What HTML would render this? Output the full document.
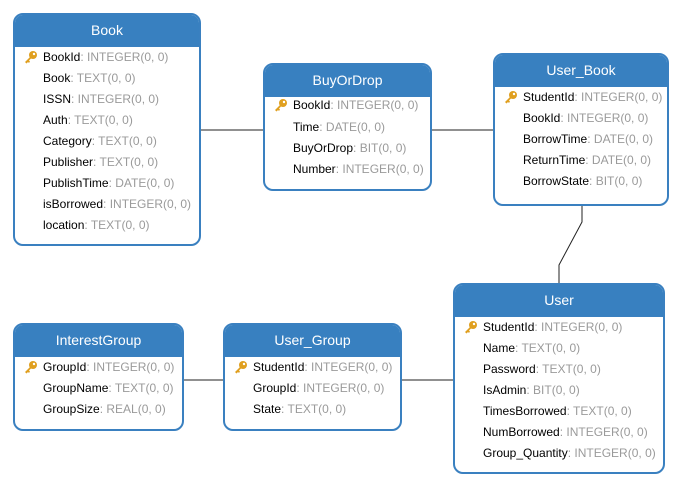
<!DOCTYPE html>
<html><head><meta charset="utf-8"><style>
body{margin:0;width:684px;height:488px;background:#fff;position:relative;font-family:"Liberation Sans",Arial,sans-serif;overflow:hidden}
.t{position:absolute;border:2px solid #3a80c0;border-radius:10px;background:#fff;box-sizing:border-box;overflow:hidden}
.h{background:#3880c0;color:#fff;font-size:14px;text-align:center;height:31px;line-height:31px;border-bottom:1px solid #3a80c0}
.r{position:absolute;left:28px;font-size:12px;color:#000;white-space:nowrap;line-height:14px;margin-top:-1px}
.r span{color:#9a9a9a}
.k{position:absolute;left:9px;width:14px;height:14px}
svg.l{position:absolute;left:0;top:0}
</style></head><body>
<svg class="l" width="684" height="488"><g stroke="#222" stroke-width="1" fill="none">
<line x1="200" y1="130" x2="263" y2="130"/><line x1="431" y1="130" x2="493" y2="130"/>
<polyline points="582,205 582,222 559,265 559,283"/>
<line x1="183" y1="380" x2="223" y2="380"/><line x1="401" y1="380" x2="453" y2="380"/></g></svg>

<div class="t" style="left:13px;top:13px;width:188px;height:233px"><div class="h">Book</div>
<svg class="k" style="top:35px" viewBox="0 0 14 14"><circle cx="9" cy="5" r="4" fill="#e0a020"/><circle cx="10" cy="4" r="1.2" fill="#fff"/><path d="M6 7 L1 12 L2.5 13.5 L4 12 L5 13 L6 11.5 L5 10.5 L7.5 8z" fill="#e0a020"/></svg>
<div class="r" style="top:36px">BookId<span>: INTEGER(0, 0)</span></div>
<div class="r" style="top:57px">Book<span>: TEXT(0, 0)</span></div>
<div class="r" style="top:78px">ISSN<span>: INTEGER(0, 0)</span></div>
<div class="r" style="top:99px">Auth<span>: TEXT(0, 0)</span></div>
<div class="r" style="top:120px">Category<span>: TEXT(0, 0)</span></div>
<div class="r" style="top:141px">Publisher<span>: TEXT(0, 0)</span></div>
<div class="r" style="top:162px">PublishTime<span>: DATE(0, 0)</span></div>
<div class="r" style="top:183px">isBorrowed<span>: INTEGER(0, 0)</span></div>
<div class="r" style="top:204px">location<span>: TEXT(0, 0)</span></div>
</div>

<div class="t" style="left:263px;top:63px;width:169px;height:128px"><div class="h">BuyOrDrop</div>
<svg class="k" style="top:33px" viewBox="0 0 14 14"><circle cx="9" cy="5" r="4" fill="#e0a020"/><circle cx="10" cy="4" r="1.2" fill="#fff"/><path d="M6 7 L1 12 L2.5 13.5 L4 12 L5 13 L6 11.5 L5 10.5 L7.5 8z" fill="#e0a020"/></svg>
<div class="r" style="top:34px">BookId<span>: INTEGER(0, 0)</span></div>
<div class="r" style="top:56px">Time<span>: DATE(0, 0)</span></div>
<div class="r" style="top:77px">BuyOrDrop<span>: BIT(0, 0)</span></div>
<div class="r" style="top:98px">Number<span>: INTEGER(0, 0)</span></div>
</div>

<div class="t" style="left:493px;top:53px;width:176px;height:153px"><div class="h">User_Book</div>
<svg class="k" style="top:35px" viewBox="0 0 14 14"><circle cx="9" cy="5" r="4" fill="#e0a020"/><circle cx="10" cy="4" r="1.2" fill="#fff"/><path d="M6 7 L1 12 L2.5 13.5 L4 12 L5 13 L6 11.5 L5 10.5 L7.5 8z" fill="#e0a020"/></svg>
<div class="r" style="top:36px">StudentId<span>: INTEGER(0, 0)</span></div>
<div class="r" style="top:57px">BookId<span>: INTEGER(0, 0)</span></div>
<div class="r" style="top:78px">BorrowTime<span>: DATE(0, 0)</span></div>
<div class="r" style="top:99px">ReturnTime<span>: DATE(0, 0)</span></div>
<div class="r" style="top:120px">BorrowState<span>: BIT(0, 0)</span></div>
</div>

<div class="t" style="left:453px;top:283px;width:212px;height:191px"><div class="h">User</div>
<svg class="k" style="top:35px" viewBox="0 0 14 14"><circle cx="9" cy="5" r="4" fill="#e0a020"/><circle cx="10" cy="4" r="1.2" fill="#fff"/><path d="M6 7 L1 12 L2.5 13.5 L4 12 L5 13 L6 11.5 L5 10.5 L7.5 8z" fill="#e0a020"/></svg>
<div class="r" style="top:36px">StudentId<span>: INTEGER(0, 0)</span></div>
<div class="r" style="top:57px">Name<span>: TEXT(0, 0)</span></div>
<div class="r" style="top:78px">Password<span>: TEXT(0, 0)</span></div>
<div class="r" style="top:99px">IsAdmin<span>: BIT(0, 0)</span></div>
<div class="r" style="top:120px">TimesBorrowed<span>: TEXT(0, 0)</span></div>
<div class="r" style="top:141px">NumBorrowed<span>: INTEGER(0, 0)</span></div>
<div class="r" style="top:162px">Group_Quantity<span>: INTEGER(0, 0)</span></div>
</div>

<div class="t" style="left:13px;top:323px;width:171px;height:108px"><div class="h">InterestGroup</div>
<svg class="k" style="top:35px" viewBox="0 0 14 14"><circle cx="9" cy="5" r="4" fill="#e0a020"/><circle cx="10" cy="4" r="1.2" fill="#fff"/><path d="M6 7 L1 12 L2.5 13.5 L4 12 L5 13 L6 11.5 L5 10.5 L7.5 8z" fill="#e0a020"/></svg>
<div class="r" style="top:36px">GroupId<span>: INTEGER(0, 0)</span></div>
<div class="r" style="top:57px">GroupName<span>: TEXT(0, 0)</span></div>
<div class="r" style="top:78px">GroupSize<span>: REAL(0, 0)</span></div>
</div>

<div class="t" style="left:223px;top:323px;width:179px;height:108px"><div class="h">User_Group</div>
<svg class="k" style="top:35px" viewBox="0 0 14 14"><circle cx="9" cy="5" r="4" fill="#e0a020"/><circle cx="10" cy="4" r="1.2" fill="#fff"/><path d="M6 7 L1 12 L2.5 13.5 L4 12 L5 13 L6 11.5 L5 10.5 L7.5 8z" fill="#e0a020"/></svg>
<div class="r" style="top:36px">StudentId<span>: INTEGER(0, 0)</span></div>
<div class="r" style="top:57px">GroupId<span>: INTEGER(0, 0)</span></div>
<div class="r" style="top:78px">State<span>: TEXT(0, 0)</span></div>
</div>
</body></html>
